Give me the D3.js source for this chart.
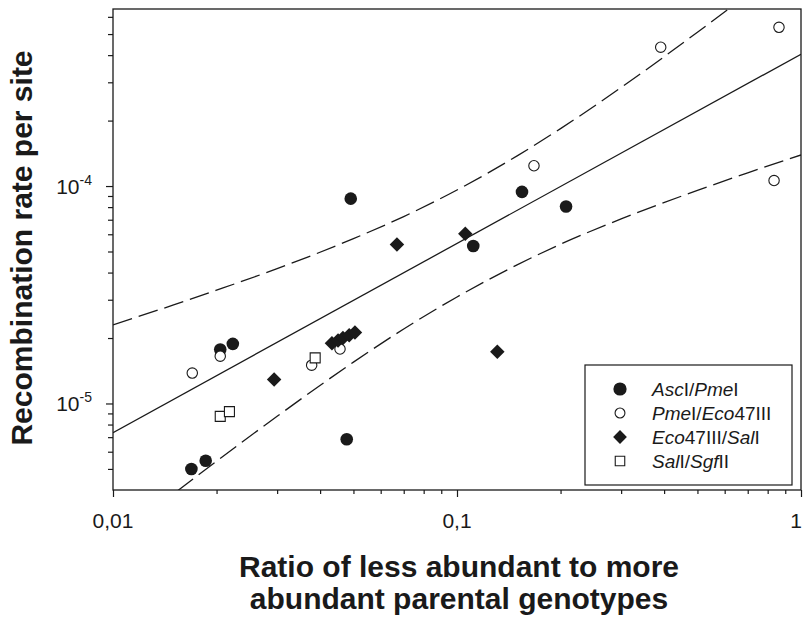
<!DOCTYPE html>
<html>
<head>
<meta charset="utf-8">
<script src="https://cdn.jsdelivr.net/npm/d3@7"></script>
<style>
  body { margin: 0; background: #fff; }
  text { font-family: "Liberation Sans", Arial, sans-serif; fill: #1a1a1a; }
</style>
</head>
<body>
<svg id="chart" width="803" height="621"></svg>
<script>
// Recombination rate per site against the ratio of parental genotypes,
// for four restriction-site intervals, with a log-log regression and its 95% band.

const seriesNames = ["AscI/PmeI", "PmeI/Eco47III", "Eco47III/SalI", "SalI/SgfII"];

// AscI/PmeI (filled circles)
const ascPmeX = [0.0205, 0.0223, 0.0169, 0.0186, 0.0491, 0.1115, 0.0478, 0.1545, 0.2075];
const ascPmeY = [1.77e-5, 1.88e-5, 5.0e-6, 5.45e-6, 8.75e-5, 5.30e-5, 6.85e-6, 9.40e-5, 8.05e-5];

// PmeI/Eco47III (open circles)
const pmeEcoX = [0.0170, 0.0205, 0.0378, 0.0457, 0.1674, 0.391, 0.863, 0.835];
const pmeEcoY = [1.38e-5, 1.65e-5, 1.50e-5, 1.78e-5, 1.24e-4, 4.35e-4, 5.37e-4, 1.06e-4];

// Eco47III/SalI (filled diamonds)
const ecoSalX = [0.0294, 0.0669, 0.1057, 0.131, 0.0433, 0.0451, 0.0466, 0.0486, 0.0505];
const ecoSalY = [1.29e-5, 5.39e-5, 6.04e-5, 1.73e-5, 1.89e-5, 1.95e-5, 2.0e-5, 2.06e-5, 2.12e-5];

// SalI/SgfII (open squares)
const salSgfX = [0.0205, 0.0218, 0.0387];
const salSgfY = [8.72e-6, 9.17e-6, 1.62e-5];

// Regression line end points and confidence band samples
const fitX = [0.01, 1];
const fitY = [7.34e-6, 4.04e-4];
const bandX     = [0.01, 0.015, 0.02, 0.03, 0.05, 0.07, 0.1, 0.15, 0.2, 0.3, 0.5, 0.7, 1];
const bandUpper = [2.30e-5, 2.84e-5, 3.32e-5, 4.17e-5, 5.73e-5, 7.24e-5, 9.59e-5, 1.380e-4, 1.837e-4, 2.84e-4, 5.10e-4, 7.60e-4, 1.172e-3];
const bandLower = [2.34e-6, 3.84e-6, 5.43e-6, 8.73e-6, 1.549e-5, 2.20e-5, 3.09e-5, 4.35e-5, 5.40e-5, 7.06e-5, 9.55e-5, 1.150e-4, 1.390e-4];

// Axis ticks
const xTickValues = [0.01, 0.1, 1];
const xTickLabels = ["0,01", "0,1", "1"];
const xMinorTicks = [0.02, 0.03, 0.04, 0.05, 0.06, 0.07, 0.08, 0.09, 0.2, 0.3, 0.4, 0.5, 0.6, 0.7, 0.8, 0.9];
const yTickValues = [1e-5, 1e-4];
const yTickExponents = ["-5", "-4"];
const yMinorTicks = [5e-6, 6e-6, 7e-6, 8e-6, 9e-6, 2e-5, 3e-5, 4e-5, 5e-5, 6e-5, 7e-5, 8e-5, 9e-5, 2e-4, 3e-4, 4e-4, 5e-4, 6e-4];

// Legend labels: pieces of [text, italic]
const legendLabels = [
  [["Asc", true], ["I/", false], ["Pme", true], ["I", false]],
  [["Pme", true], ["I/", false], ["Eco", true], ["47III", false]],
  [["Eco", true], ["47III/", false], ["Sal", true], ["I", false]],
  [["Sal", true], ["I/", false], ["Sgf", true], ["II", false]]
];

const svg = d3.select("#chart");
const plotLeft = 113, plotRight = 801, plotTop = 9, plotBottom = 490;

const x = d3.scaleLog().domain([0.01, 1]).range([plotLeft, plotRight]);
const y = d3.scaleLog().domain([4e-6, 6.52e-4]).range([plotBottom, plotTop]);

const ink = "#1a1a1a";

svg.append("defs").append("clipPath").attr("id", "plotClip")
  .append("rect").attr("x", plotLeft).attr("y", plotTop)
  .attr("width", plotRight - plotLeft).attr("height", plotBottom - plotTop);

// Ticks
function styleAxis(g) {
  g.select(".domain").remove();
  g.selectAll("line").attr("stroke", ink).attr("stroke-width", 1.2);
}
svg.append("g").attr("transform", `translate(0,${plotBottom})`)
  .call(d3.axisBottom(x).tickValues(xTickValues).tickSize(7).tickFormat(""))
  .call(styleAxis);
svg.append("g").attr("transform", `translate(0,${plotBottom})`)
  .call(d3.axisBottom(x).tickValues(xMinorTicks).tickSize(4).tickFormat(""))
  .call(styleAxis);
svg.append("g").attr("transform", `translate(${plotLeft},0)`)
  .call(d3.axisLeft(y).tickValues(yTickValues).tickSize(7).tickFormat(""))
  .call(styleAxis);
svg.append("g").attr("transform", `translate(${plotLeft},0)`)
  .call(d3.axisLeft(y).tickValues(yMinorTicks).tickSize(5).tickFormat(""))
  .call(styleAxis);

// Tick labels (the last one is kept inside the page edge)
const lastX = xTickValues.length - 1;
svg.append("g").selectAll("text").data(xTickValues).join("text")
  .attr("x", (d, i) => i === lastX ? Math.min(x(d) + 6, 802) : x(d)).attr("y", 528)
  .attr("text-anchor", (d, i) => i === lastX ? "end" : "middle").attr("font-size", 21)
  .text((d, i) => xTickLabels[i]);

const yLab = svg.append("g").selectAll("text").data(yTickValues).join("text")
  .attr("x", 92).attr("y", d => y(d) + 8)
  .attr("text-anchor", "end").attr("font-size", 21);
yLab.append("tspan").text("10");
yLab.append("tspan").attr("dy", -9).attr("font-size", 14).text((d, i) => yTickExponents[i]);

// Frame
svg.append("rect").attr("x", plotLeft).attr("y", plotTop)
  .attr("width", plotRight - plotLeft).attr("height", plotBottom - plotTop)
  .attr("fill", "none").attr("stroke", ink).attr("stroke-width", 1.3);

// Regression line and confidence band
const plot = svg.append("g").attr("clip-path", "url(#plotClip)");
const fitLine = d3.line().x(d => x(d[0])).y(d => y(d[1]));
plot.append("path")
  .attr("d", fitLine(fitX.map((v, i) => [v, fitY[i]])))
  .attr("fill", "none").attr("stroke", ink).attr("stroke-width", 1.3);

const bandLine = d3.line().x(d => x(d[0])).y(d => y(d[1])).curve(d3.curveMonotoneX);
[bandUpper, bandLower].forEach(arr => {
  plot.append("path")
    .attr("d", bandLine(bandX.map((v, i) => [v, arr[i]])))
    .attr("fill", "none").attr("stroke", ink).attr("stroke-width", 1.3)
    .attr("stroke-dasharray", "20,7");
});

// Markers
const markers = [
  { type: "filledCircle", xs: ascPmeX, ys: ascPmeY },
  { type: "openCircle", xs: pmeEcoX, ys: pmeEcoY },
  { type: "diamond", xs: ecoSalX, ys: ecoSalY },
  { type: "openSquare", xs: salSgfX, ys: salSgfY }
];

function drawMarker(g, type, cx, cy, scale) {
  const s = scale || 1;
  if (type === "filledCircle") {
    g.append("circle").attr("cx", cx).attr("cy", cy).attr("r", 6.3 * s).attr("fill", ink);
  } else if (type === "openCircle") {
    g.append("circle").attr("cx", cx).attr("cy", cy).attr("r", 5.2 * s)
      .attr("fill", "#fff").attr("stroke", ink).attr("stroke-width", 1.1);
  } else if (type === "diamond") {
    g.append("path").attr("d", d3.symbol(d3.symbolSquare, 105 * s * s)())
      .attr("transform", `translate(${cx},${cy}) rotate(45)`).attr("fill", ink);
  } else {
    g.append("path").attr("d", d3.symbol(d3.symbolSquare, 100 * s * s)())
      .attr("transform", `translate(${cx},${cy})`)
      .attr("fill", "#fff").attr("stroke", ink).attr("stroke-width", 1.1);
  }
}

const pts = svg.append("g");
markers.forEach(m => {
  m.xs.forEach((v, i) => drawMarker(pts, m.type, x(v), y(m.ys[i])));
});

// Legend
const lg = svg.append("g");
lg.append("rect").attr("x", 585).attr("y", 365).attr("width", 207).attr("height", 120)
  .attr("fill", "#fff").attr("stroke", ink).attr("stroke-width", 1.2);
markers.forEach((m, i) => {
  const cy = 389 + i * 24;
  const sc = m.type === "filledCircle" ? 1.05 : 0.95;
  drawMarker(lg, m.type, 620, cy, sc);
  const t = lg.append("text").attr("x", 652).attr("y", cy + 7).attr("font-size", 19);
  legendLabels[i].forEach(p => {
    t.append("tspan").attr("font-style", p[1] ? "italic" : "normal").text(p[0]);
  });
});

// Axis titles
svg.append("text")
  .attr("transform", "translate(32,248) rotate(-90)")
  .attr("text-anchor", "middle").attr("font-size", 30).attr("font-weight", "bold")
  .text("Recombination rate per site");

const xt = svg.append("text").attr("text-anchor", "middle")
  .attr("font-size", 30).attr("font-weight", "bold");
xt.append("tspan").attr("x", 459).attr("y", 577).text("Ratio of less abundant to more");
xt.append("tspan").attr("x", 459).attr("y", 609).text("abundant parental genotypes");
</script>
</body>
</html>
